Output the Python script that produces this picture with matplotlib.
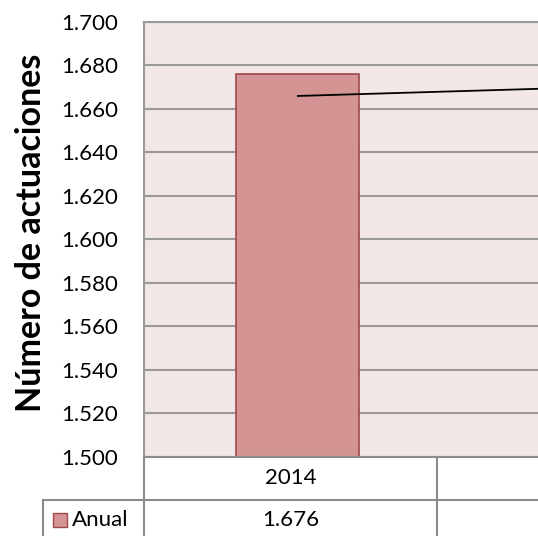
import numpy as np
import matplotlib
matplotlib.use("Agg")
from matplotlib import pyplot as plt
from matplotlib.patches import Rectangle
from matplotlib.ticker import FuncFormatter

# data
years = ["2014", "2015"]
anual = [1676, np.nan]          # second year lies outside the visible crop
linea = [1666, 1670]            # thin black line series
yticks = np.arange(1500, 1701, 20)

bar_col = "#D49494"
bar_edge = "#9E4848"
bg_col = "#F2E7E7"
grid_col = "#9A9A9A"

plt.rcParams['font.family'] = ['Lato', 'DejaVu Sans']

W, H = 538, 536
fig = plt.figure(figsize=(W / 100, H / 100), dpi=100)

left, right_div, top, bottom = 144, 437, 22, 457
cat_w = right_div - left
ax = fig.add_axes([left / W, 1 - bottom / H, 2 * cat_w / W, (bottom - top) / H])
ax.set_facecolor(bg_col)

x = np.arange(len(years))
ax.bar(x, anual, width=0.42, bottom=0, color=bar_col, edgecolor=bar_edge, linewidth=1.2, zorder=3)
ax.plot(x, linea, color="black", linewidth=1.3, zorder=4)

ax.set_ylim(1500, 1700)
ax.set_xlim(-0.525, 1.475)
ax.set_yticks(yticks)
ax.yaxis.set_major_formatter(FuncFormatter(lambda v, p: f"{v / 1000:.3f}"))
ax.tick_params(axis="y", length=0, pad=18.5, labelsize=16)
ax.set_xticks([])
ax.grid(axis="y", color=grid_col, linewidth=1.5, zorder=1)
for s in ["right", "bottom"]:
    ax.spines[s].set_visible(False)
ax.spines["top"].set_color(grid_col)
ax.spines["top"].set_linewidth(1.5)
ax.spines["left"].set_color(grid_col)
ax.spines["left"].set_linewidth(1.5)

fig.text(31 / W, 1 - 233 / H, "Número de actuaciones", rotation=90,
         ha="center", va="center", fontsize=24.5, fontweight="bold")

# data table below the plot, drawn in figure pixels
tcol = "#8C8C8C"
def fx(px):
    return px / W
def fy(py):
    return 1 - py / H

row1 = 500
lines = [
    ((left, W), (bottom, bottom)),
    ((43, W), (row1, row1)),
    ((left, left), (bottom, H)),
    ((right_div, right_div), (bottom, H)),
    ((43, 43), (row1, H)),
]
for (xs, ys) in lines:
    fig.add_artist(plt.Line2D([fx(xs[0]), fx(xs[1])], [fy(ys[0]), fy(ys[1])],
                              color=tcol, linewidth=1.5))

mid = (left + right_div) / 2
fig.text(fx(mid), fy((bottom + row1) / 2), years[0], ha="center", va="center", fontsize=16)
fig.text(fx(mid), fy((row1 + H) / 2 + 2), f"{anual[0] / 1000:.3f}", ha="center", va="center", fontsize=16)
fig.add_artist(Rectangle((fx(53), fy(527)), 14 / W, 14 / H, facecolor=bar_col,
                         edgecolor=bar_edge, linewidth=1.0))
fig.text(fx(72), fy((row1 + H) / 2 + 2), "Anual", ha="left", va="center", fontsize=16)

plt.savefig("out.png", dpi=100)
